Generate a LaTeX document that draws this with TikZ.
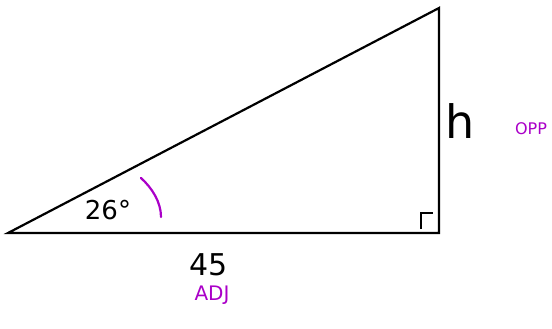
\documentclass[tikz,border=0pt]{standalone}
\usepackage{fontspec}
\setmainfont{DejaVu Sans}
\definecolor{lblpurple}{RGB}{170,0,200}
\begin{document}
\begin{tikzpicture}[x=1pt,y=-1pt,
  edge/.style={line width=2.2pt,black,line join=miter},
  rightmark/.style={line width=2.4pt,black},
  angarc/.style={line width=2.2pt,lblpurple,line cap=round},
  lbl/.style={inner sep=0pt,black,anchor=base,text depth=0pt},
  plbl/.style={inner sep=0pt,lblpurple,anchor=base,text depth=0pt}]
\useasboundingbox (0,0) rectangle (552,329);
\coordinate (A) at (8,233);
\coordinate (B) at (439,233);
\coordinate (C) at (439,8);
\draw[edge] (A) -- (B) -- (C) -- cycle;
\coordinate (r1) at (421,229);
\coordinate (r2) at (421,213);
\coordinate (r3) at (433,213);
\draw[rightmark] (r1) -- (r2) -- (r3);
\coordinate (a1) at (141,178);
\coordinate (a2) at (161,217);
\draw[angarc] (a1) .. controls (152,188) and (161,202) .. (a2);
\node[lbl,font=\fontsize{26}{26}\selectfont] (ang) at (108,219) {26°};
\node[lbl,font=\fontsize{30}{30}\selectfont] (base) at (209,275) {45};
\node[lbl,font=\fontsize{46}{46}\selectfont] (h) at (460,139) {h};
\node[plbl,font=\fontsize{16}{16}\selectfont] (opp) at (531,135) {OPP};
\node[plbl,font=\fontsize{20}{20}\selectfont,text height=14pt] (adj) at (212,300) {ADJ};
\end{tikzpicture}
\end{document}
